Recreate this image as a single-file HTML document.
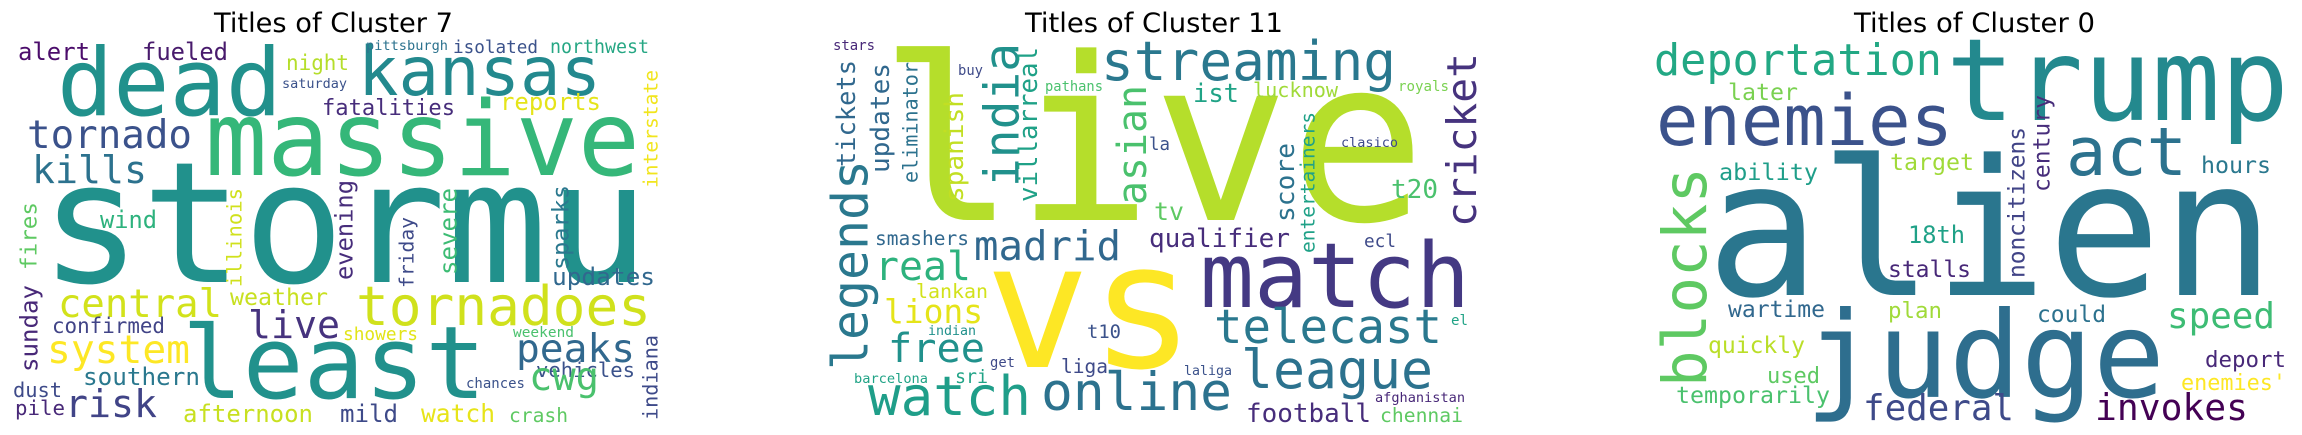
<!DOCTYPE html>
<html><head><meta charset="utf-8"><style>
html,body{margin:0;padding:0;background:#fff;}
svg{display:block;}
text{font-family:"DejaVu Sans Mono","Liberation Mono",monospace;}
.title{font-family:"DejaVu Sans","Liberation Sans",sans-serif;fill:#000;}
</style></head><body>
<svg id="wc" width="2302" height="435" viewBox="0 0 2302 435" xmlns="http://www.w3.org/2000/svg">
<rect width="2302" height="435" fill="#fff"/>
<text class="title" x="214" y="32" font-size="27" textLength="239" lengthAdjust="spacingAndGlyphs">Titles of Cluster 7</text>
<text class="title" x="1025" y="32" font-size="27" textLength="258" lengthAdjust="spacingAndGlyphs">Titles of Cluster 11</text>
<text class="title" x="1854" y="32" font-size="27" textLength="241" lengthAdjust="spacingAndGlyphs">Titles of Cluster 0</text>
</svg>
<script>
// horizontal words: [word, left x, baseline y, width, color]
const cluster7H = [
["stormu",40,282,609,"#21918c"],["alert",18,60,72,"#4b0c6b"],["dead",57,115,225,"#21918c"],
["fueled",142,60,86,"#481a6c"],["kansas",358,95,243,"#23898e"],["pittsburgh",366,50,82,"#2c728e"],
["isolated",453,53,85,"#3b528b"],["northwest",550,53,99,"#26a784"],["night",286,70,63,"#b5de2b"],
["saturday",282,88,65,"#3b528b"],["massive",205,175,435,"#35b779"],["fatalities",322,115,133,"#472d7b"],
["reports",500,110,101,"#e5e419"],["tornado",27,148,165,"#3b528b"],["kills",32,183,115,"#2c728e"],
["wind",100,228,57,"#2db27d"],["updates",552,285,103,"#31688e"],["central",58,317,164,"#d2e21b"],
["weather",230,305,98,"#c8e020"],["tornadoes",356,325,295,"#d0e11c"],["confirmed",52,333,113,"#414487"],
["live",248,338,92,"#46337e"],["least",182,398,304,"#21918c"],["showers",343,340,75,"#e2e418"],
["weekend",513,337,61,"#4ac16d"],["system",47,363,143,"#fde725"],["peaks",516,362,119,"#31688e"],
["southern",83,385,117,"#2a788e"],["vehicles",536,377,99,"#3b528b"],["cwg",529,390,70,"#4ac16d"],
["chances",466,388,59,"#3b528b"],["dust",13,397,49,"#3e4a89"],["pile",15,415,50,"#482878"],
["risk",65,417,92,"#414487"],["afternoon",183,422,130,"#c8e020"],["mild",340,422,58,"#3e4a89"],
["watch",421,422,74,"#e7e419"],["crash",509,422,59,"#5ec962"]
];
// vertical words: [word, x0, x1, y0, y1, color]
const cluster7V = [
["interstate",640,658,70,188,"#f1e51d"],["fires",15,37,202,270,"#5ec962"],["illinois",223,242,188,287,"#d0e11c"],
["evening",333,358,180,280,"#472d7b"],["friday",398,418,217,288,"#3e4a89"],["severe",439,457,188,275,"#3dbc74"],
["sparks",554,574,185,270,"#2a788e"],["sunday",25,43,285,372,"#482878"],["indiana",637,658,335,420,"#3e4a89"]
];
const cluster11H = [
["live",879,220,547,"#b5de2b"],["vs",985,367,210,"#fde725"],["stars",833,50,42,"#482878"],
["streaming",1101,80,295,"#2a788e"],["buy",958,75,25,"#3e4a89"],["pathans",1045,91,58,"#4ac16d"],
["ist",1193,102,46,"#20a386"],["lucknow",1253,97,85,"#a0da39"],["royals",1398,91,51,"#7ad151"],
["la",1149,150,21,"#3b528b"],["clasico",1341,147,57,"#3e4a89"],["t20",1391,198,47,"#4ac16d"],
["tv",1154,220,30,"#5ec962"],["smashers",875,245,94,"#31688e"],["madrid",974,260,147,"#31688e"],
["qualifier",1149,247,141,"#472d7b"],["ecl",1364,247,32,"#3e4a89"],["real",875,280,96,"#2db27d"],
["match",1200,307,270,"#443983"],["lankan",916,298,72,"#d2e21b"],["lions",884,323,99,"#e5e419"],
["telecast",1214,343,228,"#2a788e"],["el",1451,325,17,"#20a386"],["indian",928,335,48,"#21918c"],
["t10",1087,338,34,"#3b528b"],["free",888,362,97,"#21918c"],["league",1241,388,192,"#2c728e"],
["get",990,367,25,"#3e4a89"],["liga",1061,373,47,"#3e4a89"],["laliga",1184,375,48,"#3b528b"],
["barcelona",854,383,74,"#20a386"],["sri",955,383,33,"#20a386"],["watch",868,415,163,"#1f9e89"],
["online",1041,410,191,"#2c728e"],["afghanistan",1375,402,90,"#482878"],["football",1246,422,125,"#472d7b"],
["chennai",1380,422,83,"#5ec962"]
];
const cluster11V = [
["tickets",831,856,60,167,"#31688e"],["updates",875,895,63,173,"#31688e"],["eliminator",902,918,62,183,"#2c728e"],
["india",978,1020,43,187,"#21918c"],["villarreal",1020,1038,47,202,"#1fa187"],["spanish",951,969,92,202,"#c2df23"],
["asian",1119,1147,85,205,"#4ac16d"],["cricket",1449,1477,53,227,"#46337e"],["score",1276,1295,143,222,"#2c728e"],
["entertainers",1299,1315,112,253,"#1fa187"],["legends",831,879,160,370,"#2a788e"]
];
const cluster0H = [
["trump",1946,120,343,"#23898e"],["deportation",1654,75,288,"#22a884"],["later",1728,100,70,"#7ad151"],
["enemies",1656,145,297,"#3b528b"],["act",2066,175,121,"#2c728e"],["target",1890,170,84,"#a0da39"],
["ability",1719,180,99,"#1f9e89"],["hours",2201,173,70,"#2a788e"],["alien",1706,295,569,"#2a768e"],
["18th",1908,243,57,"#1fa187"],["stalls",1888,277,83,"#482878"],["wartime",1728,317,97,"#31688e"],
["plan",1888,318,54,"#a0da39"],["could",2037,322,69,"#2c728e"],["speed",2167,328,108,"#3dbc74"],
["judge",1805,397,360,"#2e6e8e"],["quickly",1708,353,97,"#bade28"],["used",1767,383,53,"#5ec962"],
["temporarily",1676,403,154,"#4ac16d"],["deport",2205,367,81,"#482878"],["enemies'",2181,390,105,"#fde725"],
["federal",1863,420,151,"#3e4a89"],["invokes",2095,420,153,"#440154"]
];
const cluster0V = [
["century",2037,2055,95,192,"#472d7b"],["noncitizens",2007,2025,127,278,"#414487"],["blocks",1656,1708,167,387,"#5ec962"]
];

const svg = document.getElementById('wc');
const NS = 'http://www.w3.org/2000/svg';
function mk(word, cluster) {
  const t = document.createElementNS(NS, 'text');
  t.textContent = word;
  t.setAttribute('lengthAdjust', 'spacingAndGlyphs');
  
  
  return t;
}
function drawH(list, cluster) {
  list.forEach(function (d) {
    const fs = d[3] / (d[0].length * 0.602);
    const t = mk(d[0], cluster);
    t.setAttribute('x', d[1]);
    t.setAttribute('y', d[2]);
    t.setAttribute('font-size', fs.toFixed(1));
    t.setAttribute('textLength', d[3]);
    t.setAttribute('fill', d[4]);
    svg.appendChild(t);
  });
}
function drawV(list, cluster) {
  list.forEach(function (d) {
    const len = d[4] - d[3];
    const fs = len / (d[0].length * 0.602);
    const desc = /[gjpqy]/.test(d[0]) ? 0.23 : 0.03;
    const bx = d[2] - desc * fs;
    const by = d[4];
    const t = mk(d[0], cluster);
    t.setAttribute('x', 0);
    t.setAttribute('y', 0);
    t.setAttribute('font-size', fs.toFixed(1));
    t.setAttribute('textLength', len);
    t.setAttribute('fill', d[5]);
    t.setAttribute('transform', 'translate(' + bx.toFixed(1) + ',' + by + ') rotate(-90)');
    svg.appendChild(t);
  });
}
drawH(cluster7H, 'c7'); drawV(cluster7V, 'c7');
drawH(cluster11H, 'c11'); drawV(cluster11V, 'c11');
drawH(cluster0H, 'c0'); drawV(cluster0V, 'c0');
</script>
</body></html>
